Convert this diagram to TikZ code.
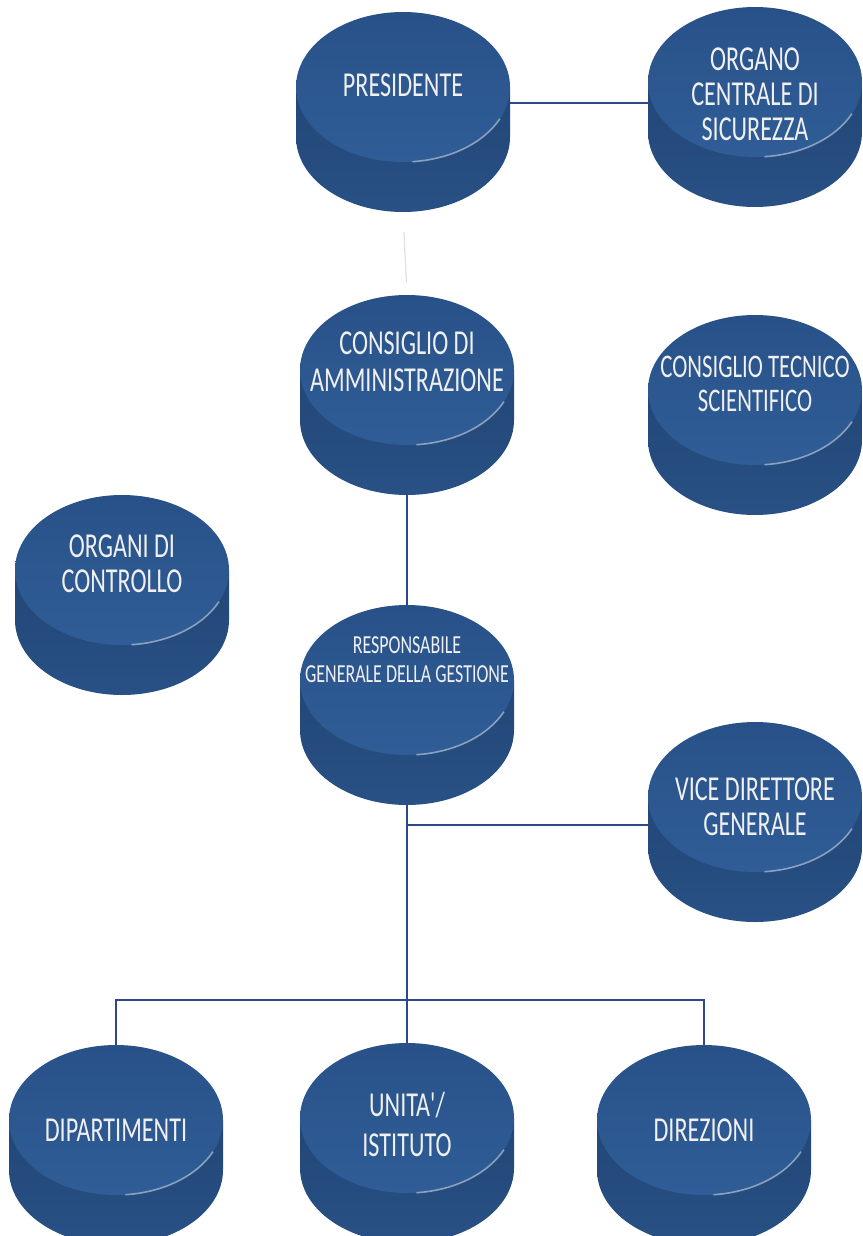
\documentclass[tikz,border=0pt]{standalone}
\usepackage{fontspec}
\usepackage{tikz}
\usetikzlibrary{positioning, shapes.geometric, calc}

\newfontfamily\puckfont[FakeStretch=0.69]{Carlito}
\definecolor{pucktopA}{RGB}{40,81,136}
\definecolor{pucktopB}{RGB}{48,93,151}
\definecolor{pucksideA}{RGB}{34,70,119}
\definecolor{pucksideB}{RGB}{41,81,133}
\definecolor{linkblue}{RGB}{47,72,140}

% puck: name, centre of top face, text, text style
\newcommand{\puck}[4]{%
  \coordinate (#1-c) at (#2);
  \shade[puckside] ($(#1-c)+(-107,0)$) -- ++(0,-50)
    arc[start angle=180, end angle=360, x radius=107, y radius=75] -- ++(0,50) -- cycle;
  \node[pucktop] (#1) at (#1-c) {};
  \draw[rimlight] ($(#1-c)+(9.3,-74.7)$) arc[start angle=275, end angle=335, x radius=107, y radius=75];
  \node[pucktext, #4] at (#1-c) {#3};
  \coordinate (#1-b) at ($(#1-c)+(0,-125)$);
}

\begin{document}
\begin{tikzpicture}[x=0.5pt, y=0.5pt]
    \tikzstyle{pucktop} = [ellipse, minimum width=107pt, minimum height=75pt, inner sep=0pt, top color=pucktopA, bottom color=pucktopB]
    \tikzstyle{puckside} = [top color=pucksideA, bottom color=pucksideB]
    \tikzstyle{rimlight} = [white, opacity=0.45, line width=0.8pt]
    \tikzstyle{pucktext} = [text=white!94!black, align=center, inner sep=0pt, font=\puckfont\fontsize{17.5}{17.5}\selectfont]
    \tikzstyle{smalltext} = [font=\puckfont\fontsize{13}{14.5}\selectfont]
    \tikzstyle{midtext} = [font=\puckfont\fontsize{16.5}{17}\selectfont]
    \tikzstyle{conn} = [draw=linkblue, line width=0.7pt]
    \tikzstyle{faint} = [draw=black!12, line width=0.6pt]
    \clip (0,0) rectangle (862,-1236);
    \fill[white] (0,0) rectangle (862,-1236);

    \puck{pres}{403,-87}{PRESIDENTE}{yshift=1pt}
    \puck{ocs}{755,-82}{ORGANO\\CENTRALE DI\\SICUREZZA}{yshift=-6pt}
    \puck{cda}{407,-370}{CONSIGLIO DI\\AMMINISTRAZIONE}{yshift=4pt, font=\puckfont\fontsize{17.5}{18.5}\selectfont}
    \puck{cts}{755,-390}{CONSIGLIO TECNICO\\SCIENTIFICO}{midtext, yshift=3pt}
    \puck{odc}{122,-570}{ORGANI DI\\CONTROLLO}{yshift=3pt}
    \puck{rgg}{407,-680}{RESPONSABILE\\GENERALE DELLA GESTIONE}{smalltext, yshift=10pt}
    \puck{vdg}{755,-797}{VICE DIRETTORE\\GENERALE}{yshift=-5pt}
    \puck{dip}{116,-1120}{DIPARTIMENTI}{yshift=-5pt}
    \puck{uni}{407,-1118}{UNITA'/\\ISTITUTO}{yshift=-3pt, font=\puckfont\fontsize{17.5}{20}\selectfont}
    \puck{dir}{704,-1120}{DIREZIONI}{yshift=-5pt}

    \coordinate (pj) at ([yshift=-8pt]pres.east);
    \draw[conn] (pj) -- (pj -| ocs.west);
    \draw[faint, shorten >=6pt, shorten <=10pt] (pres-b) -- (cda.north);
    \draw[conn] (cda-b) -- (rgg.north);
    \draw[conn] (rgg-b) -- (uni.north);
    \coordinate (vj) at ([yshift=-14pt]vdg.west);
    \draw[conn] (vj) -- (vj -| rgg-b);
    \coordinate (bus) at (407,-1000);
    \draw[conn] (dip.north) |- (bus) -| (dir.north);
\end{tikzpicture}
\end{document}
